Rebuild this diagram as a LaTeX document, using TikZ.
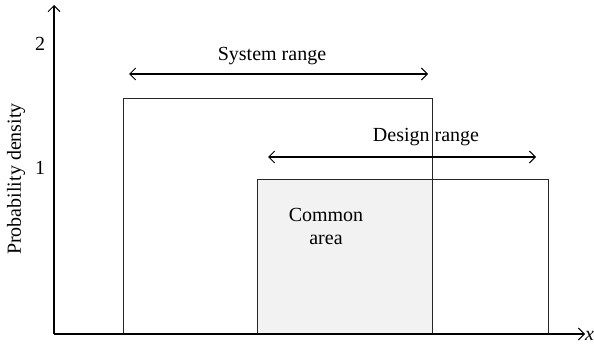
\documentclass[tikz,border=0pt]{standalone}
\usepackage{fontspec}
\setmainfont{Liberation Serif}
\usetikzlibrary{arrows.meta}
\begin{document}
\begin{tikzpicture}[x=1pt,y=1pt,
  lbl/.style={inner sep=0pt,font=\fontsize{20}{23}\selectfont},
  box/.style={draw=black!85,line width=1.1pt},
  axis/.style={line width=1.2pt,-{Straight Barb[length=6pt,width=12pt,line width=1pt]}},
  rng/.style={line width=1.1pt,{Straight Barb[length=6pt,width=12pt,line width=1pt]}-{Straight Barb[length=6pt,width=12pt,line width=1pt]}}]
  \useasboundingbox (0,0) rectangle (594,349);
  % overlap of the two ranges
  \fill[black!5] (257,15) rectangle (432,169);
  % system and design distributions
  \node[box,minimum width=309pt,minimum height=235pt,inner sep=0pt,anchor=south west] (sys) at (123,15) {};
  \node[box,minimum width=291pt,minimum height=154pt,inner sep=0pt,anchor=south west] (des) at (257,15) {};
  % axes
  \coordinate (o) at (54,15);
  \coordinate (ytop) at (54,344);
  \coordinate (xend) at (585,15);
  \draw[axis] (o) -- (ytop);
  \draw[axis] (o) -- (xend);
  \node[lbl,anchor=west] (xl) at (585,13) {\textit{x}};
  \node[lbl] (t2) at (40,305) {2};
  \node[lbl] (t1) at (40,181) {1};
  \node[lbl,rotate=90] (yl) at (16,170) {Probability density};
  % range arrows
  \coordinate (sa) at (129,275);
  \coordinate (sb) at (428,275);
  \draw[rng] (sa) -- (sb);
  \node[lbl] (sl) at (272,293) {System range};
  \coordinate (da) at (268,192);
  \coordinate (db) at (536,192);
  \draw[rng] (da) -- (db);
  \node[lbl] (dl) at (426,212) {Design range};
  \node[lbl,align=center] (cl) at (326,123) {Common\\area};
\end{tikzpicture}
\end{document}
